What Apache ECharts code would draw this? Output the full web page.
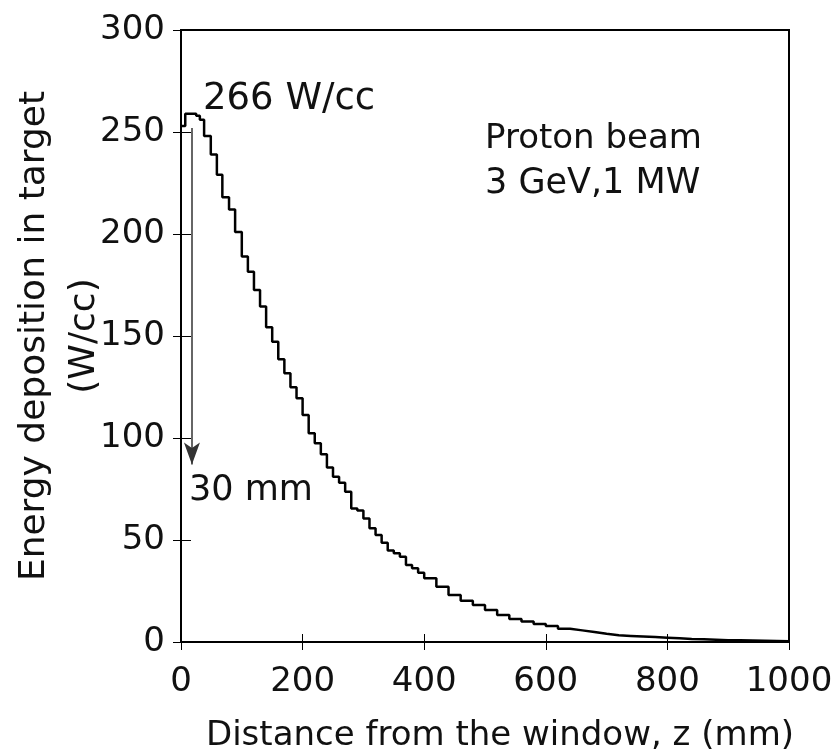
<!DOCTYPE html>
<html>
<head>
<meta charset="utf-8">
<script src="https://cdn.jsdelivr.net/npm/echarts@6/dist/echarts.min.js"></script>
<style>html,body{margin:0;padding:0;background:#fff;}#c{width:835px;height:751px;}</style>
</head>
<body>
<div id="c"></div>
<script>
// Bin edges along z (mm)
var zEdges = [0,7,25,31,38,49,59,68,79,89,
  100,110,120,130,140,150,160,170,180,190,200,210,220,230,240,250,260,270,280,290,
  300,310,320,330,340,350,360,370,380,390,
  400,420,440,460,480,500,520,540,560,580,600,620,640,660,680,700,720,740,760,780,
  800,820,840,860,880,900,920,940,960,980,1000];
// Energy deposition per bin (W/cc)
var deposition = [253,259,258,256,248,239,229,218,212,201,
  189,181.5,172.5,164.4,154.3,147.2,138.6,131.7,124.9,119.5,
  111.3,102.3,97.4,92,85.6,81.0,78.1,73.7,65.5,64.4,
  60.6,55.7,52.5,48.7,44.8,43.5,41.8,37.7,36.1,34.0,
  31.2,27.1,23.0,20.2,18.1,15.7,13.2,11.3,10.0,8.8,
  7.8,6.5,5.7,4.9,4.0,3.3,3.0,2.7,2.4,2.1,
  1.8,1.5,1.3,1.1,0.9,0.8,0.7,0.6,0.5,0.4];
var xTicks = [0,200,400,600,800,1000];
var yTicks = [0,50,100,150,200,250,300];
var arrowZ = 18, arrowTop = 252, arrowBottom = 87;
var peakLabel = '266 W/cc';
var beamLabel = ['Proton beam','3 GeV,1 MW'];
var arrowLabel = '30 mm';

var FONT = "'DejaVu Sans', sans-serif";
var series = [];
for (var i = 0; i < deposition.length; i++) series.push([zEdges[i], deposition[i]]);
series.push([zEdges[zEdges.length-1], deposition[deposition.length-1]]);

var chart = echarts.init(document.getElementById('c'));
var axisText = {fontSize: 34, color: '#111', fontFamily: FONT, formatter: function (v) { return String(v); }};
chart.setOption({
  backgroundColor: '#fff',
  animation: false,
  grid: {left: 181, top: 30, width: 608, height: 612, show: true, borderColor: '#000', borderWidth: 2,
         containLabel: false, outerBoundsMode: 'none'},
  xAxis: [{
    type: 'value', min: xTicks[0], max: xTicks[xTicks.length-1], interval: 200,
    axisLine: {lineStyle: {color: '#000', width: 2}},
    axisTick: {inside: true, length: 8, lineStyle: {color: '#000'}},
    splitLine: {show: false},
    axisLabel: Object.assign({margin: 23}, axisText),
    name: 'Distance from the window, z (mm)', nameLocation: 'middle', nameGap: 77, nameMoveOverlap: false,
    nameTextStyle: {fontSize: 34, color: '#111', fontFamily: FONT, padding: [0, 0, 0, 30]}
  }, {
    type: 'value', position: 'top', min: 0, max: 1000, interval: 200,
    axisLine: {lineStyle: {color: '#000', width: 2}},
    axisTick: {inside: true, length: 8, lineStyle: {color: '#000'}},
    axisLabel: {show: false}, splitLine: {show: false}
  }],
  yAxis: [{
    type: 'value', min: yTicks[0], max: yTicks[yTicks.length-1], interval: 50,
    axisLine: {lineStyle: {color: '#000', width: 2}},
    axisTick: {inside: true, length: 10, lineStyle: {color: '#000'}},
    splitLine: {show: false},
    axisLabel: Object.assign({margin: 16}, axisText),
    name: 'Energy deposition in target\n(W/cc)', nameLocation: 'middle', nameGap: 71, nameRotate: 90,
    nameMoveOverlap: false,
    nameTextStyle: {fontSize: 36, color: '#111', fontFamily: FONT, lineHeight: 50, align: 'center'}
  }, {
    type: 'value', position: 'right', min: 0, max: 300, interval: 50,
    axisLine: {lineStyle: {color: '#000', width: 2}},
    axisTick: {inside: true, length: 8, lineStyle: {color: '#000'}},
    axisLabel: {show: false}, splitLine: {show: false}
  }],
  series: [{
    type: 'line', step: 'end', data: series, showSymbol: false, symbol: 'none',
    lineStyle: {color: '#000', width: 2.5},
    markLine: {
      silent: true, symbol: ['none', 'arrow'], symbolSize: [12, 22],
      label: {show: false},
      lineStyle: {color: '#333', width: 1.5, type: 'solid'},
      data: [[{coord: [arrowZ, arrowTop]}, {coord: [arrowZ, arrowBottom]}]]
    }
  }],
  graphic: [
    {type: 'text', left: 203, top: 81, style: {text: peakLabel, font: '37px ' + FONT, fill: '#111'}},
    {type: 'text', left: 485, top: 122, style: {text: beamLabel[0], font: '34px ' + FONT, fill: '#111'}},
    {type: 'text', left: 485, top: 166, style: {text: beamLabel[1], font: '35px ' + FONT, fill: '#111'}},
    {type: 'text', left: 189, top: 473, style: {text: arrowLabel, font: '35px ' + FONT, fill: '#111'}}
  ]
});
</script>
</body>
</html>
